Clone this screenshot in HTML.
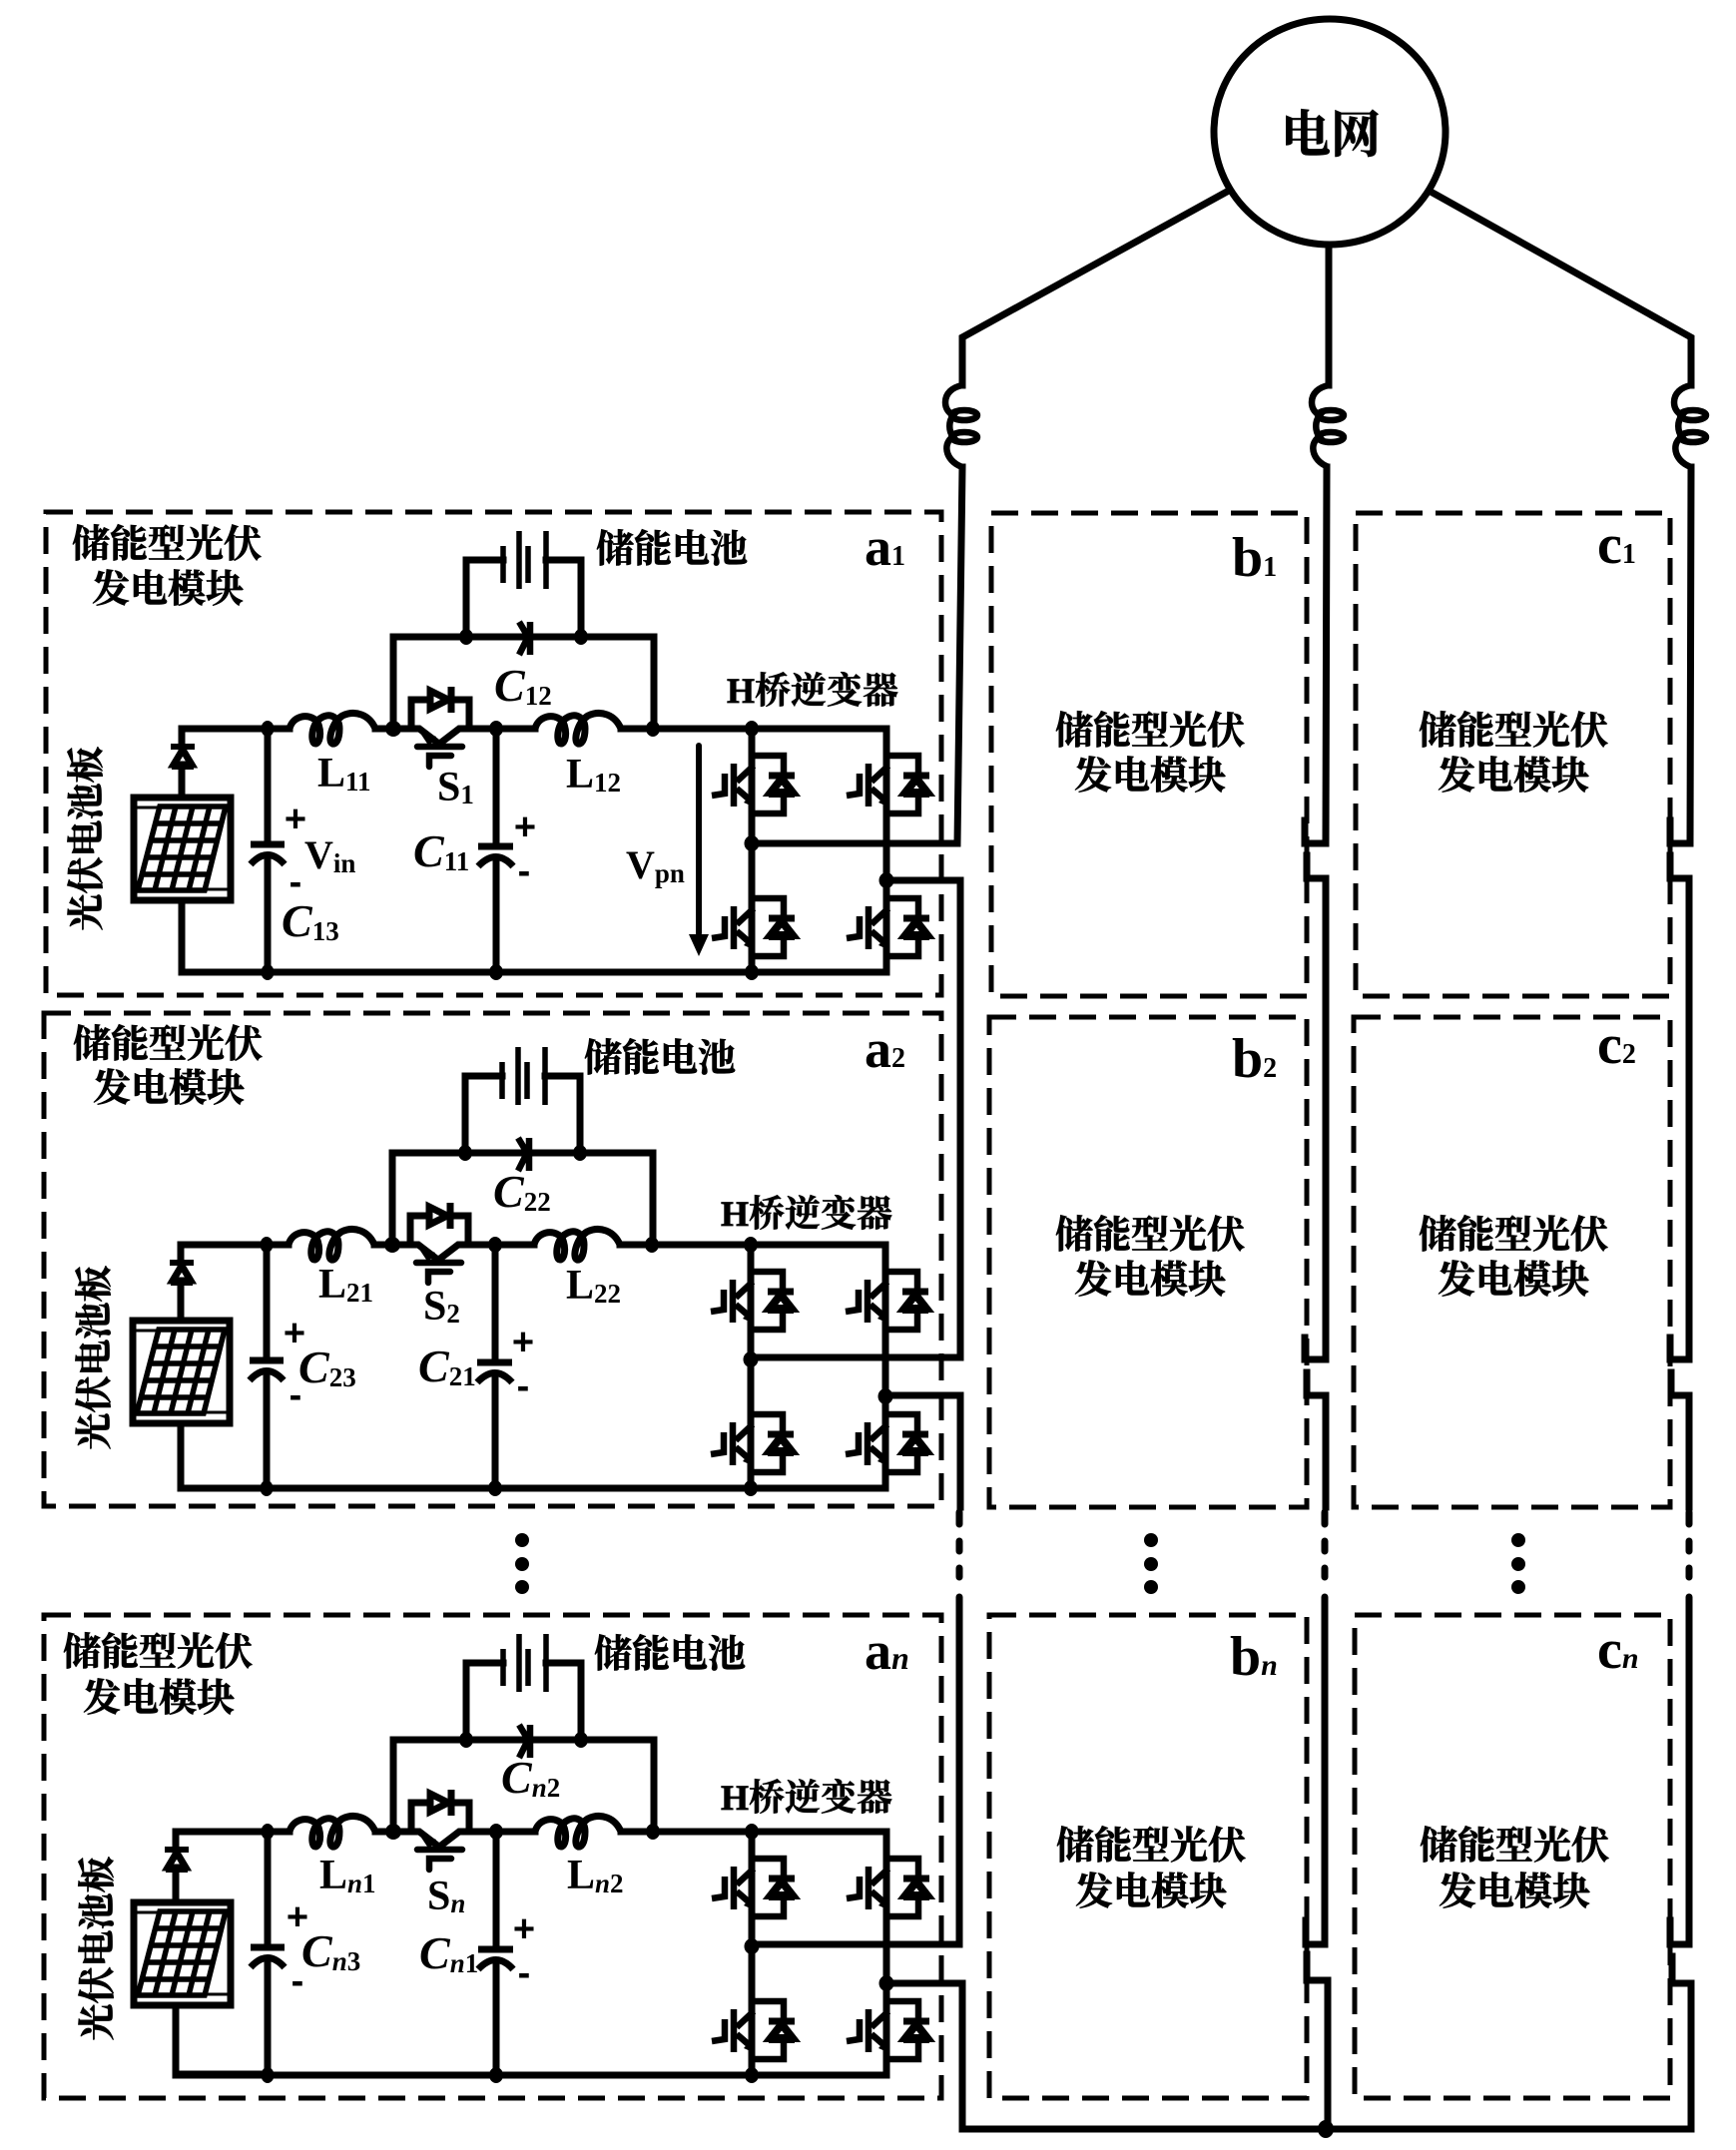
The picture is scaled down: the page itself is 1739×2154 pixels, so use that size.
<!DOCTYPE html>
<html><head><meta charset="utf-8"><style>
html,body{margin:0;padding:0;background:#fff}
svg{display:block}
.w{fill:none;stroke:#000;stroke-width:7;stroke-linejoin:miter;stroke-linecap:square}
.d{fill:none;stroke:#000;stroke-width:5;stroke-dasharray:27 13}
.c{font-family:"Liberation Serif","Noto Serif CJK SC",serif;font-weight:700;fill:#000;stroke:#000;stroke-width:.7}
.h{font-size:38px}
.r{font-size:37px;text-anchor:middle}
.e{font-family:"Liberation Serif",serif;font-weight:700;fill:#000;font-size:42px}
.i{font-family:"Liberation Serif",serif;font-weight:700;font-style:italic;fill:#000;font-size:46px}
.s{font-size:27px;font-style:normal}
.si{font-size:27px;font-style:italic}
.p{font-family:"Liberation Sans",sans-serif;font-weight:700;font-size:38px;fill:#000;text-anchor:middle}
</style></head><body>
<svg xmlns="http://www.w3.org/2000/svg" width="1739" height="2154" viewBox="0 0 1739 2154">
<defs>
<path id="coil" d="M0 0C3-12 18-17 28-7C33 5 30 15 26 15C21 15 21-5 32-11C42-17 50-10 50 0C50 12 46 16 43 15C38 13 42-6 53-13C66-19 80-14 86 0" fill="none" stroke="#000" stroke-width="7"/>
<g id="igbt">
<path d="M2 37L-15 53M-18 35V78M-15 60L0 73M-27 45V65L-40 67M0 27H32V47M32 66V85H0" fill="none" stroke="#000" stroke-width="6.5"/>
<path d="M-8 74L1 64V78Z" fill="#000"/>
<path d="M17 47H43" stroke="#000" stroke-width="7"/>
<path d="M30 50L19 64H41Z" fill="#fff" stroke="#000" stroke-width="8" stroke-linejoin="miter"/>
<path d="M17 66H43" stroke="#000" stroke-width="6"/>
</g>
<g id="body">
<path class="w" d="M182 730H290M376 730H420L437 743M443 743L460 730H536M622 730H888V974H182M753 730V974M394 730V638H655V730M467 638V561H504M582 638V561H547M268 730V845M268 858V974M497 730V847M497 859V974M412 730V701H470V730"/>
<use href="#coil" x="290" y="730"/><use href="#coil" x="536" y="730"/>
<path d="M418 748H463M430 768V757H452" fill="none" stroke="#000" stroke-width="6.5" stroke-linecap="round"/>
<path d="M418 730L437 738L430 748Z" fill="#000"/>
<path d="M431 692V710L449 701Z" fill="#fff" stroke="#000" stroke-width="7"/><path d="M452 688V714" stroke="#000" stroke-width="7"/>
<path d="M504 547V584M520 532V590M529 547V584M547 532V590" stroke="#000" stroke-width="5.5" fill="none"/>
<path d="M520 623L529 638L520 656M531 623V656" fill="none" stroke="#000" stroke-width="6.5"/>
<path d="M251 846H285" stroke="#000" stroke-width="7"/><path d="M251 866Q268 847 285 866" fill="none" stroke="#000" stroke-width="7"/>
<path d="M479 848H514" stroke="#000" stroke-width="7"/><path d="M479 868Q497 849 514 868" fill="none" stroke="#000" stroke-width="7"/>
<use href="#igbt" x="753" y="730"/><use href="#igbt" x="753" y="873"/><use href="#igbt" x="888" y="730"/><use href="#igbt" x="888" y="873"/>
<g fill="#000">
<ellipse cx="268" cy="730" rx="6.5" ry="8"/><ellipse cx="268" cy="974" rx="6.5" ry="8"/><ellipse cx="394" cy="730" rx="8" ry="8"/><ellipse cx="497" cy="730" rx="7" ry="8"/><ellipse cx="497" cy="974" rx="7" ry="8"/><ellipse cx="654" cy="730" rx="7" ry="8"/><ellipse cx="753" cy="730" rx="7" ry="8"/><ellipse cx="753" cy="974" rx="7" ry="8"/><ellipse cx="467" cy="638" rx="7" ry="8"/><ellipse cx="582" cy="638" rx="7" ry="8"/><ellipse cx="753" cy="845" rx="7.5" ry="8"/><ellipse cx="888" cy="882" rx="7.5" ry="8"/>
</g>
</g>
<g id="leftwire">
<path class="w" d="M182 730V974"/>
<path d="M183 751L174 766H192Z" fill="#fff" stroke="#000" stroke-width="7"/><path d="M171 748H195" stroke="#000" stroke-width="6"/><path d="M172 769H194" stroke="#000" stroke-width="4"/>
</g>
<g id="pv">
<rect x="134" y="799" width="97" height="103" fill="#fff" stroke="#000" stroke-width="7"/>
<path d="M134 809H231" stroke="#000" stroke-width="3"/>
<path d="M134 891H231" stroke="#000" stroke-width="3"/>
<path d="M160 808H226L205 892H138ZM155 825H222M151 842H218M147 859H213M142 876H209M176 808L155 892M193 808L172 892M210 808L189 892" fill="#fff" stroke="#000" stroke-width="5.5"/>
</g>
<g id="ind" fill="none" stroke="#000" stroke-width="6.5">
<path d="M0 0C-10 2-17 8-17 17C-17 24-13 28-9 30C-14 36-14 46-9 52C-19 56-19 75 0 82"/>
<ellipse cx="2" cy="30" rx="13" ry="5"/><ellipse cx="2" cy="52" rx="13" ry="5"/>
</g>
</defs>
<rect width="1739" height="2154" fill="#fff"/>

<!-- dashed module boxes -->
<rect class="d" x="46" y="513" width="897" height="484"/>
<rect class="d" x="44" y="1015" width="899" height="494"/>
<rect class="d" x="44" y="1618" width="899" height="484"/>
<rect class="d" x="993" y="514" width="316" height="484"/>
<rect class="d" x="991" y="1019" width="318" height="491"/>
<rect class="d" x="991" y="1618" width="318" height="484"/>
<rect class="d" x="1358" y="514" width="315" height="484"/>
<rect class="d" x="1356" y="1019" width="317" height="491"/>
<rect class="d" x="1357" y="1618" width="316" height="484"/>

<!-- grid + phase wires -->
<ellipse cx="1332" cy="132" rx="116" ry="113" fill="#fff" stroke="#000" stroke-width="7"/>
<path class="w" d="M1229 192L964 338V386M1331 247V386M1435 193L1694 338V386"/>
<use href="#ind" x="964" y="386"/><use href="#ind" x="1331" y="386"/><use href="#ind" x="1694" y="386"/>
<path class="w" stroke-linecap="butt" d="M964 468L959 845H753M888 882H962V1360H752M886 1398H962V1510M1329 468L1328 845H1307V822M1309 857V880H1328V1362H1307V1340M1309 1375V1398H1328V1510M1694 468L1693 845H1673V822M1673 857V880H1692V1362H1673V1340M1674 1375V1398H1692V1510M961 1612V1948H752M888 1987H964V2133H1694V1987H1675V1960M1327 1612V1948H1308V1924M1309 1958V1984H1330V2133M1692 1612V1948H1673V1924"/>
<path d="M961 1515V1527M961 1544V1554M961 1571V1580M961 1600V1609M1327 1515V1527M1327 1544V1554M1327 1571V1580M1327 1600V1609M1692 1515V1527M1692 1544V1554M1692 1571V1580M1692 1600V1609" stroke="#000" stroke-width="7" fill="none" stroke-linecap="round"/>
<ellipse cx="1328" cy="2133" rx="8" ry="9" fill="#000"/>

<!-- modules -->
<use href="#body"/>
<use href="#leftwire"/>
<use href="#pv"/>
<g transform="translate(-1 517)"><use href="#body"/><use href="#leftwire"/></g>
<g transform="translate(-1 524)"><use href="#pv"/></g>
<use href="#body" y="1105"/>
<g transform="translate(-6 1105)"><use href="#leftwire"/></g>
<g transform="translate(0 1107)"><use href="#pv"/></g>
<path class="w" d="M176 1835H268M176 2078H268"/>

<!-- Vpn arrow -->
<path d="M700 747V935" stroke="#000" stroke-width="6" fill="none" stroke-linecap="round"/>
<path d="M690 936H710L700 958Z" fill="#000"/>

<!-- ellipsis dots -->
<g fill="#000">
<circle cx="523" cy="1543" r="7"/><circle cx="523" cy="1567" r="7"/><circle cx="523" cy="1590" r="7"/>
<circle cx="1153" cy="1543" r="7"/><circle cx="1153" cy="1567" r="7"/><circle cx="1153" cy="1590" r="7"/>
<circle cx="1521" cy="1543" r="7"/><circle cx="1521" cy="1567" r="7"/><circle cx="1521" cy="1590" r="7"/>
</g>

<!-- text: grid -->
<text class="c" x="1333" y="152" font-size="50" text-anchor="middle" stroke-width="0">电网</text>

<!-- text: a1 -->
<text class="c h" x="72" y="558">储能型光伏</text>
<text class="c h" x="92" y="603">发电模块</text>
<text class="c h" x="597" y="563">储能电池</text>
<text class="e" x="866" y="566" style="font-size:54px">a<tspan style="font-size:28px">1</tspan></text>
<text class="i" x="495" y="702">C<tspan class="s" dy="4">12</tspan></text>
<text class="c" x="728" y="704" font-size="36">H桥逆变器</text>
<text class="e" x="318" y="788">L<tspan class="s" dy="4">11</tspan></text>
<text class="e" x="438" y="802">S<tspan class="s" dy="3">1</tspan></text>
<text class="e" x="567" y="789">L<tspan class="s" dy="4">12</tspan></text>
<text class="p" x="296" y="833">+</text><text class="p" x="296" y="896">-</text>
<text class="e" x="305" y="870" style="font-size:40px">V<tspan class="s" dy="4">in</tspan></text>
<text class="i" x="282" y="938">C<tspan class="s" dy="4">13</tspan></text>
<text class="i" x="414" y="868">C<tspan class="s" dy="4">11</tspan></text>
<text class="p" x="526" y="841">+</text><text class="p" x="525" y="885">-</text>
<text class="e" x="627" y="880" style="font-size:40px">V<tspan class="s" dy="4">pn</tspan></text>
<text class="c r" x="86" y="853" transform="rotate(-90 86 840)">光伏电池板</text>

<!-- text: a2 -->
<text class="c h" x="73" y="1059">储能型光伏</text>
<text class="c h" x="93" y="1103">发电模块</text>
<text class="c h" x="585" y="1073">储能电池</text>
<text class="e" x="866" y="1069" style="font-size:54px">a<tspan style="font-size:28px">2</tspan></text>
<text class="i" x="494" y="1209">C<tspan class="s" dy="4">22</tspan></text>
<text class="c" x="722" y="1228" font-size="36">H桥逆变器</text>
<text class="e" x="319" y="1300">L<tspan class="s" dy="4">21</tspan></text>
<text class="e" x="424" y="1322">S<tspan class="s" dy="3">2</tspan></text>
<text class="e" x="567" y="1301">L<tspan class="s" dy="4">22</tspan></text>
<text class="p" x="295" y="1348">+</text><text class="p" x="296" y="1410">-</text>
<text class="i" x="299" y="1385">C<tspan class="s" dy="4">23</tspan></text>
<text class="i" x="419" y="1384">C<tspan class="s" dy="4">21</tspan></text>
<text class="p" x="524" y="1357">+</text><text class="p" x="524" y="1401">-</text>
<text class="c r" x="94" y="1373" transform="rotate(-90 94 1360)">光伏电池板</text>

<!-- text: an -->
<text class="c h" x="63" y="1668">储能型光伏</text>
<text class="c h" x="83" y="1714">发电模块</text>
<text class="c h" x="595" y="1670">储能电池</text>
<text class="e" x="866" y="1672" style="font-size:54px">a<tspan class="si" style="font-size:32px">n</tspan></text>
<text class="i" x="502" y="1796">C<tspan class="si" dy="4">n</tspan><tspan class="s">2</tspan></text>
<text class="c" x="722" y="1813" font-size="36">H桥逆变器</text>
<text class="e" x="320" y="1892">L<tspan class="si" dy="4">n</tspan><tspan class="s">1</tspan></text>
<text class="e" x="428" y="1913">S<tspan class="si" dy="3">n</tspan></text>
<text class="e" x="568" y="1892">L<tspan class="si" dy="4">n</tspan><tspan class="s">2</tspan></text>
<text class="p" x="298" y="1933">+</text><text class="p" x="298" y="1997">-</text>
<text class="i" x="302" y="1970">C<tspan class="si" dy="4">n</tspan><tspan class="s">3</tspan></text>
<text class="i" x="420" y="1972">C<tspan class="si" dy="4">n</tspan><tspan class="s">1</tspan></text>
<text class="p" x="525" y="1945">+</text><text class="p" x="525" y="1989">-</text>
<text class="c r" x="97" y="1965" transform="rotate(-90 97 1952)">光伏电池板</text>

<!-- text: b/c labels -->
<g class="c r" style="font-size:38px">
<text x="1152" y="745">储能型光伏</text><text x="1152" y="790">发电模块</text>
<text x="1516" y="745">储能型光伏</text><text x="1516" y="790">发电模块</text>
<text x="1152" y="1250">储能型光伏</text><text x="1152" y="1295">发电模块</text>
<text x="1516" y="1250">储能型光伏</text><text x="1516" y="1295">发电模块</text>
<text x="1153" y="1862">储能型光伏</text><text x="1153" y="1908">发电模块</text>
<text x="1517" y="1862">储能型光伏</text><text x="1517" y="1908">发电模块</text>
</g>
<text class="e" x="1234" y="577" style="font-size:56px">b<tspan style="font-size:28px">1</tspan></text>
<text class="e" x="1600" y="564" style="font-size:56px">c<tspan style="font-size:28px">1</tspan></text>
<text class="e" x="1234" y="1079" style="font-size:56px">b<tspan style="font-size:28px">2</tspan></text>
<text class="e" x="1600" y="1065" style="font-size:56px">c<tspan style="font-size:28px">2</tspan></text>
<text class="e" x="1232" y="1678" style="font-size:56px">b<tspan class="si" style="font-size:30px">n</tspan></text>
<text class="e" x="1600" y="1671" style="font-size:56px">c<tspan class="si" style="font-size:30px">n</tspan></text>
</svg>
</body></html>
